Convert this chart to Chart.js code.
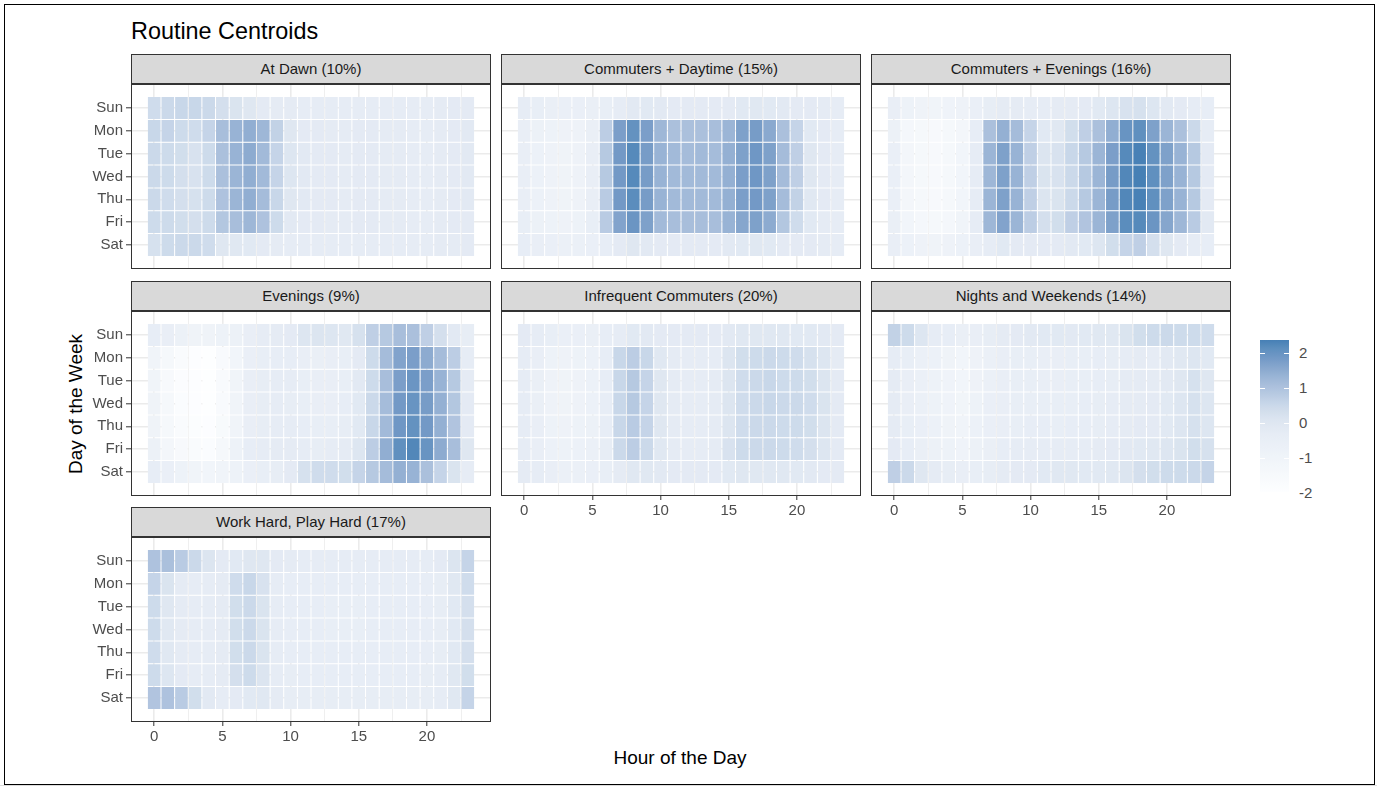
<!DOCTYPE html>
<html>
<head>
<meta charset="utf-8">
<script src="https://cdn.jsdelivr.net/npm/chart.js@4/dist/chart.umd.min.js"></script>
<style>
  html, body { margin: 0; padding: 0; background: #ffffff; }
  body { width: 1377px; height: 786px; position: relative; overflow: hidden;
         font-family: "Liberation Sans", Arial, Helvetica, sans-serif; }
  .abs { position: absolute; }
  #frame { left: 4px; top: 4px; width: 1371px; height: 781px; border: 1px solid #000; box-sizing: border-box; }
  #bottomband { left: 0; top: 785px; width: 1377px; height: 1px; background: #dcdcdc; }
  .strip { background: #D9D9D9; border: 1px solid #333333; box-sizing: border-box;
           color: #1A1A1A; font-size: 15px; text-align: center; line-height: 28px; white-space: nowrap; }
  canvas.panel { position: absolute; }
  #title { left: 131px; top: 17px; font-size: 23.4px; line-height: 28px; color: #000; white-space: nowrap; }
  #xtitle { left: 480px; width: 400px; top: 746px; text-align: center; font-size: 19px; line-height: 24px; color: #000; }
  #ytitle { left: -124px; width: 400px; top: 392px; text-align: center; font-size: 19px; line-height: 24px; color: #000;
            transform: rotate(-90deg); transform-origin: 200px 12px; }
  .leglab { font-size: 15px; color: #4D4D4D; line-height: 16px; }
  .legtick { background: #ffffff; height: 1px; width: 5px; }
</style>
</head>
<body>
<div id="frame" class="abs"></div>
<div id="bottomband" class="abs"></div>
<div id="title" class="abs">Routine Centroids</div>
<div id="xtitle" class="abs">Hour of the Day</div>
<div id="ytitle" class="abs">Day of the Week</div>
<div id="legend"></div>

<script>
// ---------------- data ----------------
const days = ['Sun', 'Mon', 'Tue', 'Wed', 'Thu', 'Fri', 'Sat'];
const hours = [0,1,2,3,4,5,6,7,8,9,10,11,12,13,14,15,16,17,18,19,20,21,22,23];
const xTickValues = [0, 2.5, 5, 7.5, 10, 12.5, 15, 17.5, 20, 22.5];
const legendTicks = [2, 1, 0, -1, -2];
const panelTitles = ['At Dawn (10%)', 'Commuters + Daytime (15%)', 'Commuters + Evenings (16%)',
                     'Evenings (9%)', 'Infrequent Commuters (20%)', 'Nights and Weekends (14%)',
                     'Work Hard, Play Hard (17%)'];

const atDawn = [
  [0.4,0.5,0.55,0.55,0.5,0.3,0.15,0.0,-0.2,-0.25,-0.25,-0.3,-0.3,-0.3,-0.3,-0.3,-0.3,-0.3,-0.3,-0.3,-0.3,-0.25,-0.2,-0.2],
  [0.55,0.6,0.45,0.4,0.6,1.1,1.35,1.45,1.25,0.65,0.0,-0.2,-0.2,-0.25,-0.25,-0.2,-0.2,-0.25,-0.25,-0.3,-0.3,-0.25,-0.2,-0.15],
  [0.5,0.45,0.35,0.2,0.45,1.05,1.35,1.5,1.2,0.6,0.05,-0.15,-0.2,-0.2,-0.25,-0.2,-0.2,-0.25,-0.25,-0.3,-0.3,-0.25,-0.2,-0.15],
  [0.5,0.45,0.3,0.2,0.45,1.05,1.3,1.45,1.2,0.6,0.05,-0.15,-0.2,-0.2,-0.25,-0.2,-0.2,-0.25,-0.25,-0.3,-0.3,-0.25,-0.2,-0.15],
  [0.5,0.4,0.3,0.25,0.45,1.0,1.3,1.45,1.15,0.55,0.0,-0.15,-0.2,-0.2,-0.25,-0.2,-0.2,-0.25,-0.25,-0.3,-0.3,-0.25,-0.2,-0.15],
  [0.45,0.45,0.35,0.3,0.45,0.9,1.1,1.25,1.0,0.45,-0.15,-0.2,-0.2,-0.25,-0.25,-0.2,-0.2,-0.25,-0.25,-0.3,-0.3,-0.25,-0.2,-0.2],
  [0.25,0.45,0.5,0.5,0.4,0.0,-0.05,-0.1,-0.2,-0.25,-0.3,-0.3,-0.3,-0.3,-0.3,-0.3,-0.3,-0.3,-0.3,-0.3,-0.3,-0.25,-0.25,-0.2]
];
const commutersDaytime = [
  [-0.3,-0.45,-0.55,-0.6,-0.6,-0.55,-0.45,-0.3,-0.15,-0.1,-0.15,-0.2,-0.2,-0.2,-0.2,-0.2,-0.1,-0.05,-0.1,-0.15,-0.2,-0.2,-0.25,-0.3],
  [-0.5,-0.7,-0.8,-0.85,-0.85,-0.55,0.75,1.75,2.05,1.75,1.25,1.05,1.05,1.05,1.1,1.3,1.7,1.8,1.55,1.05,0.6,-0.1,-0.2,-0.3],
  [-0.5,-0.75,-0.85,-0.9,-0.85,-0.5,0.85,1.85,2.2,1.8,1.35,1.2,1.15,1.2,1.15,1.4,1.7,1.9,1.7,1.15,0.7,0.0,-0.2,-0.3],
  [-0.5,-0.75,-0.85,-0.9,-0.85,-0.5,0.85,1.85,2.2,1.8,1.35,1.2,1.2,1.2,1.2,1.4,1.75,1.9,1.7,1.15,0.7,0.0,-0.2,-0.3],
  [-0.5,-0.75,-0.85,-0.9,-0.85,-0.5,0.8,1.85,2.15,1.8,1.35,1.2,1.2,1.2,1.2,1.4,1.75,1.85,1.7,1.15,0.65,-0.05,-0.2,-0.3],
  [-0.45,-0.7,-0.8,-0.85,-0.8,-0.45,0.8,1.65,1.95,1.7,1.2,1.1,1.1,1.1,1.1,1.35,1.6,1.7,1.5,0.9,0.4,-0.1,-0.25,-0.3],
  [-0.4,-0.5,-0.6,-0.65,-0.65,-0.6,-0.4,-0.2,0.0,-0.15,-0.2,-0.2,-0.2,-0.2,-0.2,-0.15,-0.1,-0.05,-0.1,-0.2,-0.2,-0.2,-0.25,-0.3]
];
const commutersEvenings = [
  [-0.5,-0.8,-0.9,-1.0,-0.95,-0.85,-0.6,-0.35,-0.25,-0.25,-0.3,-0.3,-0.25,-0.25,-0.2,-0.1,0.05,0.2,0.25,0.05,-0.15,-0.2,-0.3,-0.4],
  [-0.7,-1.3,-1.4,-1.5,-1.4,-1.2,-0.4,1.05,1.4,1.15,0.6,-0.1,-0.05,0.35,0.7,1.05,1.45,2.0,2.1,1.7,1.3,1.05,0.5,-0.3],
  [-0.6,-1.2,-1.4,-1.5,-1.4,-1.1,-0.3,1.3,1.7,1.35,0.7,0.1,0.2,0.55,0.85,1.3,1.75,2.2,2.35,2.05,1.7,1.35,0.85,-0.2],
  [-0.6,-1.2,-1.4,-1.5,-1.4,-1.1,-0.3,1.25,1.7,1.35,0.7,0.15,0.2,0.5,0.85,1.3,1.8,2.25,2.37,2.1,1.7,1.35,0.85,-0.2],
  [-0.6,-1.2,-1.4,-1.5,-1.4,-1.1,-0.3,1.3,1.7,1.35,0.7,0.1,0.15,0.5,0.85,1.3,1.8,2.25,2.35,2.1,1.7,1.35,0.85,-0.2],
  [-0.55,-1.1,-1.3,-1.4,-1.3,-1.0,-0.3,1.25,1.65,1.3,0.75,0.3,0.35,0.7,0.95,1.3,1.7,2.15,2.2,1.95,1.6,1.25,0.8,-0.15],
  [-0.5,-0.75,-0.85,-0.9,-0.85,-0.75,-0.5,-0.3,-0.1,-0.2,-0.2,-0.2,-0.2,-0.15,-0.1,0.05,0.35,0.6,0.7,0.3,0.0,-0.2,-0.3,-0.4]
];
const evenings = [
  [-0.4,-0.5,-0.7,-0.9,-0.9,-0.8,-0.7,-0.5,-0.3,-0.25,-0.2,0.05,0.1,0.05,-0.05,0.25,0.7,0.85,1.1,1.05,0.7,0.3,-0.15,-0.35],
  [-1.0,-1.4,-1.7,-1.9,-1.95,-1.6,-1.1,-0.6,-0.45,-0.4,-0.4,-0.5,-0.55,-0.5,-0.45,-0.2,0.45,1.15,1.65,1.75,1.5,1.15,0.75,-0.3],
  [-1.0,-1.5,-1.8,-1.9,-1.95,-1.6,-1.0,-0.5,-0.35,-0.3,-0.3,-0.45,-0.5,-0.5,-0.45,-0.15,0.45,1.1,1.75,1.95,1.75,1.35,0.85,-0.25],
  [-0.9,-1.4,-1.75,-1.9,-1.95,-1.6,-1.0,-0.5,-0.35,-0.3,-0.35,-0.45,-0.5,-0.5,-0.4,-0.1,0.5,1.15,1.85,2.0,1.8,1.4,0.9,-0.2],
  [-0.9,-1.4,-1.7,-1.85,-1.9,-1.55,-1.0,-0.5,-0.35,-0.3,-0.3,-0.4,-0.45,-0.45,-0.35,-0.1,0.55,1.2,1.9,2.05,1.85,1.4,0.95,-0.2],
  [-0.7,-1.2,-1.5,-1.7,-1.75,-1.4,-0.8,-0.4,-0.3,-0.25,-0.25,-0.3,-0.35,-0.3,-0.25,0.05,0.75,1.45,2.1,2.25,2.0,1.5,1.1,0.0],
  [-0.4,-0.6,-0.8,-1.0,-1.1,-1.0,-0.8,-0.6,-0.45,-0.35,-0.2,0.25,0.4,0.4,0.35,0.6,0.85,1.15,1.4,1.35,1.05,0.6,0.15,-0.3]
];
const infrequentCommuters = [
  [-0.2,-0.3,-0.45,-0.6,-0.6,-0.55,-0.4,-0.3,-0.1,-0.15,-0.2,-0.2,-0.2,-0.2,-0.2,-0.15,-0.05,-0.05,-0.05,-0.05,-0.1,-0.1,-0.15,-0.2],
  [-0.3,-0.5,-0.8,-0.85,-0.8,-0.75,-0.4,0.55,0.75,0.55,-0.05,-0.25,-0.3,-0.3,-0.3,0.1,0.35,0.45,0.5,0.45,0.4,0.25,0.05,-0.25],
  [-0.3,-0.55,-0.85,-0.9,-0.85,-0.75,-0.4,0.55,0.85,0.6,0.0,-0.25,-0.3,-0.3,-0.25,0.1,0.4,0.5,0.55,0.45,0.45,0.35,0.1,-0.2],
  [-0.3,-0.55,-0.85,-0.9,-0.85,-0.75,-0.4,0.55,0.85,0.6,0.0,-0.25,-0.3,-0.3,-0.25,0.1,0.4,0.5,0.55,0.5,0.5,0.4,0.15,-0.2],
  [-0.3,-0.5,-0.8,-0.85,-0.8,-0.7,-0.4,0.55,0.8,0.6,0.0,-0.25,-0.3,-0.3,-0.25,0.1,0.4,0.5,0.5,0.45,0.45,0.35,0.1,-0.2],
  [-0.3,-0.5,-0.75,-0.8,-0.75,-0.65,-0.35,0.5,0.75,0.5,-0.05,-0.25,-0.3,-0.3,-0.25,0.2,0.45,0.5,0.5,0.45,0.4,0.3,0.05,-0.2],
  [-0.25,-0.3,-0.5,-0.65,-0.65,-0.6,-0.45,-0.25,-0.05,-0.05,-0.15,-0.2,-0.2,-0.2,-0.2,-0.1,0.0,-0.05,-0.05,-0.05,-0.1,-0.15,-0.2,-0.2]
];
const nightsWeekends = [
  [0.65,0.45,0.05,-0.3,-0.4,-0.55,-0.5,-0.35,-0.25,-0.2,-0.15,-0.1,-0.1,-0.15,-0.1,-0.05,-0.05,0.15,0.35,0.45,0.5,0.45,0.45,0.4],
  [-0.3,-0.45,-0.65,-0.75,-0.9,-1.1,-0.85,-0.65,-0.5,-0.45,-0.45,-0.5,-0.5,-0.45,-0.45,-0.4,-0.35,-0.3,-0.25,-0.3,-0.15,-0.05,0.05,-0.1],
  [-0.25,-0.5,-0.65,-0.8,-0.95,-1.1,-0.85,-0.65,-0.5,-0.45,-0.45,-0.5,-0.5,-0.45,-0.45,-0.4,-0.35,-0.25,-0.25,-0.25,-0.15,0.0,0.25,0.0],
  [-0.25,-0.5,-0.65,-0.8,-0.95,-1.05,-0.8,-0.6,-0.5,-0.45,-0.45,-0.45,-0.45,-0.45,-0.4,-0.35,-0.3,-0.25,-0.25,-0.2,-0.1,0.05,0.25,0.05],
  [-0.25,-0.45,-0.6,-0.75,-0.9,-1.0,-0.75,-0.6,-0.5,-0.45,-0.4,-0.4,-0.45,-0.4,-0.4,-0.35,-0.3,-0.25,-0.2,-0.2,-0.1,0.05,0.25,0.05],
  [-0.2,-0.4,-0.55,-0.7,-0.8,-0.95,-0.7,-0.55,-0.4,-0.3,-0.3,-0.3,-0.3,-0.3,-0.3,-0.25,-0.2,-0.15,-0.1,-0.05,0.05,0.15,0.35,0.25],
  [0.7,0.5,0.0,-0.25,-0.35,-0.5,-0.45,-0.35,-0.25,-0.2,-0.2,-0.1,-0.05,-0.05,-0.1,-0.1,-0.05,0.1,0.3,0.35,0.45,0.45,0.5,0.6]
];
const workHardPlayHard = [
  [1.0,1.05,0.8,0.5,0.1,-0.2,-0.1,0.0,0.0,-0.2,-0.25,-0.3,-0.3,-0.3,-0.3,-0.3,-0.3,-0.3,-0.3,-0.3,-0.3,-0.2,0.1,0.6],
  [0.6,0.15,-0.25,-0.3,-0.3,-0.25,0.4,0.55,0.2,-0.3,-0.4,-0.4,-0.4,-0.4,-0.4,-0.4,-0.4,-0.4,-0.4,-0.4,-0.4,-0.35,-0.05,0.4],
  [0.45,0.0,-0.25,-0.3,-0.3,-0.25,0.35,0.5,0.15,-0.3,-0.4,-0.4,-0.4,-0.45,-0.45,-0.45,-0.4,-0.4,-0.4,-0.4,-0.4,-0.35,-0.1,0.3],
  [0.45,-0.05,-0.25,-0.3,-0.3,-0.25,0.35,0.5,0.15,-0.3,-0.4,-0.4,-0.4,-0.45,-0.45,-0.45,-0.4,-0.4,-0.4,-0.4,-0.4,-0.35,-0.1,0.3],
  [0.4,-0.05,-0.25,-0.3,-0.3,-0.25,0.35,0.5,0.15,-0.3,-0.4,-0.4,-0.4,-0.4,-0.4,-0.4,-0.4,-0.4,-0.4,-0.4,-0.4,-0.35,-0.1,0.3],
  [0.45,0.05,-0.2,-0.3,-0.3,-0.25,0.3,0.45,0.1,-0.3,-0.35,-0.4,-0.4,-0.4,-0.4,-0.4,-0.4,-0.4,-0.4,-0.4,-0.35,-0.3,-0.05,0.35],
  [0.95,1.0,0.8,0.35,-0.15,-0.3,-0.2,-0.1,-0.05,-0.25,-0.35,-0.35,-0.35,-0.35,-0.35,-0.35,-0.35,-0.35,-0.35,-0.35,-0.35,-0.3,-0.05,0.6]
];
const panelData = [atDawn, commutersDaytime, commutersEvenings, evenings,
                   infrequentCommuters, nightsWeekends, workHardPlayHard];

// ---------------- colour scale ----------------
const scaleMin = -1.97, scaleMax = 2.37;
const rampValues = [-1.97, -1.0, -0.3, 0.1, 0.5, 0.75, 1.1, 1.35, 1.6, 1.85, 2.1, 2.37];
const rampColors = [[253,254,255],[240,244,249],[230,236,245],[220,229,240],[203,217,234],[188,205,228],
                    [168,190,219],[152,179,213],[134,166,205],[115,153,198],[96,144,191],[70,128,181]];
function fillFor(v) {
  if (v <= rampValues[0]) return 'rgb(' + rampColors[0].join(',') + ')';
  for (let i = 1; i < rampValues.length; i++) {
    if (v <= rampValues[i]) {
      const t = (v - rampValues[i-1]) / (rampValues[i] - rampValues[i-1]);
      const a = rampColors[i-1], b = rampColors[i];
      return 'rgb(' + [0,1,2].map(k => Math.round(a[k] + (b[k] - a[k]) * t)).join(',') + ')';
    }
  }
  return 'rgb(' + rampColors[rampColors.length-1].join(',') + ')';
}

// ---------------- layout ----------------
const COL_X = [131, 501, 871];
const ROW_Y = [54, 281, 507];
const PANEL_W = 360, PLOT_H = 185, STRIP_H = 30;
const LEFT_M = 60, TOP_M = 15, RIGHT_M = 4, BOTTOM_M = 30;

Chart.defaults.font.family = "'Liberation Sans', Arial, Helvetica, sans-serif";

const panelBorder = {
  id: 'panelBorder',
  afterDatasetsDraw(chart) {
    const ca = chart.chartArea, ctx = chart.ctx;
    ctx.save();
    ctx.strokeStyle = '#333333';
    ctx.lineWidth = 1;
    ctx.strokeRect(ca.left + 0.5, ca.top + 0.5, ca.right - ca.left - 1, ca.bottom - ca.top - 1);
    ctx.restore();
  }
};

function makePanel(i) {
  const col = i % 3, row = Math.floor(i / 3);
  const plotLeft = COL_X[col], stripTop = ROW_Y[row], plotTop = stripTop + STRIP_H;
  const showY = col === 0, showX = i >= 4;
  const values = panelData[i];

  const strip = document.createElement('div');
  strip.className = 'abs strip';
  strip.style.left = plotLeft + 'px';
  strip.style.top = stripTop + 'px';
  strip.style.width = PANEL_W + 'px';
  strip.style.height = STRIP_H + 'px';
  strip.textContent = panelTitles[i];
  document.body.appendChild(strip);

  const canvas = document.createElement('canvas');
  canvas.className = 'panel';
  canvas.width = LEFT_M + PANEL_W + RIGHT_M;
  canvas.height = TOP_M + PLOT_H + BOTTOM_M;
  canvas.style.left = (plotLeft - LEFT_M) + 'px';
  canvas.style.top = (plotTop - TOP_M) + 'px';
  document.body.appendChild(canvas);

  const datasets = days.map((d, di) => ({
    label: d,
    data: hours.map(h => ({ x: h, y: [di + 0.5, di + 1.5] })),
    backgroundColor: values[di].map(fillFor),
    borderColor: 'rgba(255,255,255,0.3)',
    borderWidth: 0.5,
    borderSkipped: false,
    grouped: false,
    barPercentage: 1,
    categoryPercentage: 1,
    inflateAmount: 0
  }));

  new Chart(canvas, {
    type: 'bar',
    data: { datasets },
    options: {
      responsive: false,
      animation: false,
      events: [],
      layout: { padding: { top: TOP_M, right: RIGHT_M, left: 0, bottom: 0 } },
      plugins: { legend: { display: false }, tooltip: { enabled: false } },
      scales: {
        x: {
          type: 'linear', min: -1.7, max: 24.7, offset: false,
          afterBuildTicks: s => { s.ticks = xTickValues.map(v => ({ value: v })); },
          afterFit: s => { s.height = BOTTOM_M; },
          border: { display: false },
          grid: {
            offset: false, color: '#EBEBEB',
            lineWidth: c => (c.tick && c.tick.value % 5 === 0) ? 1.6 : 0.8,
            tickLength: showX ? 4 : 0, tickWidth: 1,
            tickColor: c => (showX && c.tick && c.tick.value % 5 === 0) ? '#333333' : 'rgba(0,0,0,0)'
          },
          ticks: {
            display: showX, autoSkip: false, maxRotation: 0, padding: 2,
            color: '#4D4D4D', font: { size: 15 },
            callback: v => (v % 5 === 0 ? String(v) : '')
          }
        },
        y: {
          type: 'linear', min: -0.05, max: 8.05, reverse: true, offset: false,
          afterBuildTicks: s => { s.ticks = days.map((d, di) => ({ value: di + 1 })); },
          afterFit: s => { s.width = LEFT_M; },
          border: { display: false },
          grid: {
            offset: false, color: '#EBEBEB', lineWidth: 1.6,
            tickLength: showY ? 5 : 0, tickWidth: 1,
            tickColor: showY ? '#333333' : 'rgba(0,0,0,0)'
          },
          ticks: {
            display: showY, autoSkip: false, padding: 3,
            color: '#4D4D4D', font: { size: 15 },
            callback: v => days[Math.round(v) - 1] || ''
          }
        }
      }
    },
    plugins: [panelBorder]
  });
}

for (let i = 0; i < panelData.length; i++) makePanel(i);

// ---------------- colour bar legend ----------------
(function legend() {
  const top = 340, left = 1260, w = 29;
  const pxPerUnit = 35;
  const h = (scaleMax - scaleMin) * pxPerUnit;
  const host = document.getElementById('legend');
  const bar = document.createElement('div');
  bar.className = 'abs';
  bar.style.left = left + 'px'; bar.style.top = top + 'px';
  bar.style.width = w + 'px'; bar.style.height = h + 'px';
  const stops = [];
  for (let k = 0; k <= 60; k++) {
    const v = scaleMax - (scaleMax - scaleMin) * k / 60;
    stops.push(fillFor(v) + ' ' + (k / 60 * 100).toFixed(2) + '%');
  }
  bar.style.background = 'linear-gradient(to bottom, ' + stops.join(', ') + ')';
  host.appendChild(bar);
  legendTicks.forEach(v => {
    const y = top + (scaleMax - v) * pxPerUnit;
    if (y < top + h - 1) {
      [left, left + w - 5].forEach(x => {
        const t = document.createElement('div');
        t.className = 'abs legtick';
        t.style.left = x + 'px'; t.style.top = Math.round(y) + 'px';
        host.appendChild(t);
      });
    }
    const lab = document.createElement('div');
    lab.className = 'abs leglab';
    lab.style.left = (left + w + 10) + 'px';
    lab.style.top = Math.round(y - 8) + 'px';
    lab.textContent = String(v);
    host.appendChild(lab);
  });
})();
</script>
</body>
</html>
